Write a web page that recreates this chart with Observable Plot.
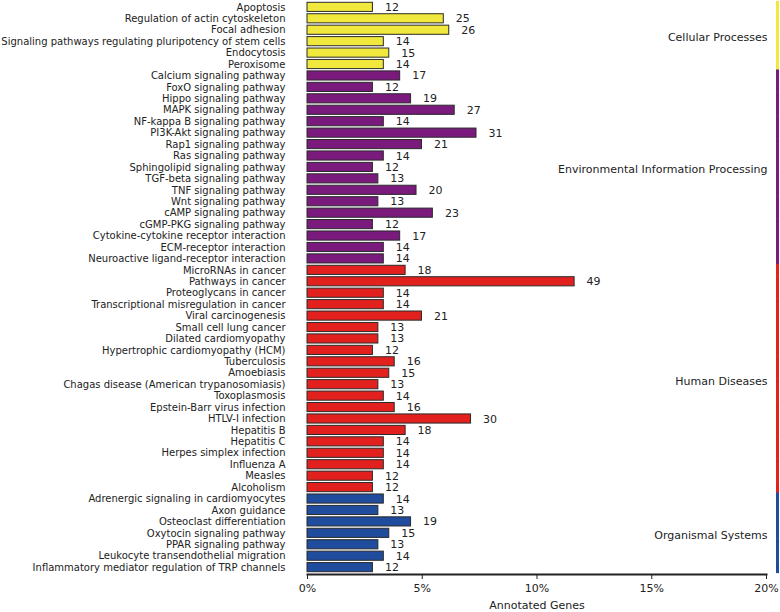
<!DOCTYPE html>
<html>
<head>
<meta charset="utf-8">
<script src="https://cdn.jsdelivr.net/npm/d3@7"></script>
<script src="https://cdn.jsdelivr.net/npm/@observablehq/plot@0.6"></script>
<style>
  html, body { margin: 0; padding: 0; background: #fff; }
</style>
</head>
<body>
<div id="chart"></div>
<script>
const categories = [
  "Apoptosis", "Regulation of actin cytoskeleton", "Focal adhesion",
  "Signaling pathways regulating pluripotency of stem cells", "Endocytosis", "Peroxisome",
  "Calcium signaling pathway", "FoxO signaling pathway", "Hippo signaling pathway",
  "MAPK signaling pathway", "NF-kappa B signaling pathway", "PI3K-Akt signaling pathway",
  "Rap1 signaling pathway", "Ras signaling pathway", "Sphingolipid signaling pathway",
  "TGF-beta signaling pathway", "TNF signaling pathway", "Wnt signaling pathway",
  "cAMP signaling pathway", "cGMP-PKG signaling pathway", "Cytokine-cytokine receptor interaction",
  "ECM-receptor interaction", "Neuroactive ligand-receptor interaction",
  "MicroRNAs in cancer", "Pathways in cancer", "Proteoglycans in cancer",
  "Transcriptional misregulation in cancer", "Viral carcinogenesis", "Small cell lung cancer",
  "Dilated cardiomyopathy", "Hypertrophic cardiomyopathy (HCM)", "Tuberculosis", "Amoebiasis",
  "Chagas disease (American trypanosomiasis)", "Toxoplasmosis", "Epstein-Barr virus infection",
  "HTLV-I infection", "Hepatitis B", "Hepatitis C", "Herpes simplex infection", "Influenza A",
  "Measles", "Alcoholism",
  "Adrenergic signaling in cardiomyocytes", "Axon guidance", "Osteoclast differentiation",
  "Oxytocin signaling pathway", "PPAR signaling pathway", "Leukocyte transendothelial migration",
  "Inflammatory mediator regulation of TRP channels"
];
const counts = [
  12, 25, 26, 14, 15, 14,
  17, 12, 19, 27, 14, 31, 21, 14, 12, 13, 20, 13, 23, 12, 17, 14, 14,
  18, 49, 14, 14, 21, 13, 13, 12, 16, 15, 13, 14, 16, 30, 18, 14, 14, 14, 12, 12,
  14, 13, 19, 15, 13, 14, 12
];
const groupNames = ["Cellular Processes", "Environmental Information Processing", "Human Diseases", "Organismal Systems"];
const groupSizes = [6, 17, 20, 7];
const groupColors = ["#f0e83c", "#7a1a7c", "#e2211f", "#1f4c9c"];
const totalGenes = 421;
const xTicks = [0, 5, 10, 15, 20];

const groupOf = [];
groupNames.forEach((g, i) => { for (let k = 0; k < groupSizes[i]; k++) groupOf.push(g); });
const data = categories.map((name, i) => ({
  name, count: counts[i], group: groupOf[i], pct: counts[i] / totalGenes * 100
}));

const W = 780, H = 612, mt = 0, mb = 38, pad = 0.2;
const step = (H - mt - mb) / (categories.length - pad + 2 * pad);

let start = 0;
const groupLabelMarks = groupNames.map((g, i) => {
  const n = groupSizes[i];
  const midIdx = start + Math.floor((n - 1) / 2);
  const dy = (n % 2 === 0 ? step / 2 : 0) + 2;
  start += n;
  return Plot.text([{g, name: categories[midIdx]}], {
    x: 20, y: "name", text: "g", textAnchor: "end", dy, dx: 1, fontSize: 11, fill: "#222"
  });
});

const chart = Plot.plot({
  width: W, height: H,
  marginLeft: 307, marginRight: 14, marginTop: mt, marginBottom: mb,
  style: { fontFamily: "DejaVu Sans", fontSize: "10px", color: "#222", background: "#fff" },
  x: { domain: [0, 20], label: "Annotated Genes" },
  y: { domain: categories, padding: pad, round: false, label: null },
  color: { domain: groupNames, range: groupColors },
  marks: [
    Plot.barX(data, { x: "pct", y: "name", fill: "group", stroke: "#2a2a2a", strokeWidth: 1 }),
    Plot.text(data, { x: "pct", y: "name", text: "count", dx: 12, textAnchor: "start", fill: "#222", fontSize: 11 }),
    Plot.tickX(data, { x: 20, y: "name", stroke: "group", strokeWidth: 3, dx: 11, insetTop: -1.4, insetBottom: -1.4 }),
    ...groupLabelMarks,
    Plot.frame({ anchor: "bottom", strokeWidth: 2, stroke: "#222" }),
    Plot.axisY({ tickSize: 0, tickPadding: 22, fontSize: 10 }),
    Plot.axisX({ ticks: xTicks, tickFormat: d => d + "%", tickSize: 5, tickPadding: 5, fontSize: 11,
      label: "Annotated Genes", labelAnchor: "center", labelArrow: "none", labelOffset: 34 })
  ]
});
document.getElementById("chart").appendChild(chart);
</script>
</body>
</html>
